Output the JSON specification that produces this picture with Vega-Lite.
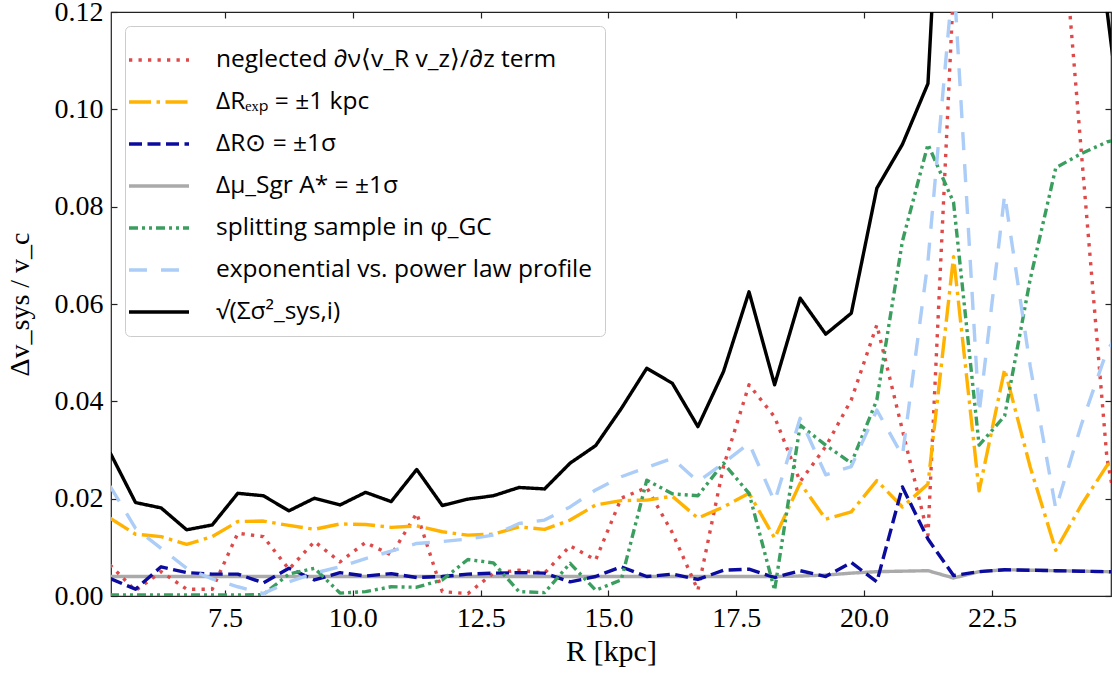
{
  "$schema": "https://vega.github.io/schema/vega-lite/v6.json",
  "width": 1000,
  "height": 584,
  "autosize": {"type": "none"},
  "padding": {"left": 111, "top": 12, "right": 5, "bottom": 79},
  "background": "white",
  "config": {
    "view": {"stroke": "#222222", "strokeWidth": 1.2},
    "font": "Liberation Serif",
    "axis": {"grid": false}
  },
  "data": {
    "values": [
      {"R": 5.25, "neg": 0.0064, "rexp": 0.0160, "rsun": 0.0036, "mu": 0.0040, "split": 0.0002, "expo": 0.0226, "tot": 0.0295},
      {"R": 5.75, "neg": 0.0011, "rexp": 0.0127, "rsun": 0.0014, "mu": 0.0040, "split": 0.0002, "expo": 0.0139, "tot": 0.0192},
      {"R": 6.25, "neg": 0.0050, "rexp": 0.0122, "rsun": 0.0060, "mu": 0.0040, "split": 0.0002, "expo": 0.0098, "tot": 0.0181},
      {"R": 6.75, "neg": 0.0014, "rexp": 0.0106, "rsun": 0.0048, "mu": 0.0040, "split": 0.0002, "expo": 0.0057, "tot": 0.0136},
      {"R": 7.25, "neg": 0.0014, "rexp": 0.0122, "rsun": 0.0045, "mu": 0.0040, "split": 0.0002, "expo": 0.0035, "tot": 0.0146},
      {"R": 7.75, "neg": 0.0129, "rexp": 0.0153, "rsun": 0.0045, "mu": 0.0040, "split": 0.0002, "expo": 0.0019, "tot": 0.0211},
      {"R": 8.25, "neg": 0.0122, "rexp": 0.0154, "rsun": 0.0027, "mu": 0.0040, "split": 0.0003, "expo": 0.0005, "tot": 0.0206},
      {"R": 8.75, "neg": 0.0055, "rexp": 0.0145, "rsun": 0.0057, "mu": 0.0040, "split": 0.0045, "expo": 0.0029, "tot": 0.0175},
      {"R": 9.25, "neg": 0.0112, "rexp": 0.0137, "rsun": 0.0033, "mu": 0.0040, "split": 0.0057, "expo": 0.0047, "tot": 0.0201},
      {"R": 9.75, "neg": 0.0070, "rexp": 0.0148, "rsun": 0.0048, "mu": 0.0040, "split": 0.0006, "expo": 0.0060, "tot": 0.0187},
      {"R": 10.25, "neg": 0.0110, "rexp": 0.0147, "rsun": 0.0041, "mu": 0.0040, "split": 0.0009, "expo": 0.0077, "tot": 0.0213},
      {"R": 10.75, "neg": 0.0084, "rexp": 0.0141, "rsun": 0.0046, "mu": 0.0040, "split": 0.0019, "expo": 0.0092, "tot": 0.0194},
      {"R": 11.25, "neg": 0.0170, "rexp": 0.0144, "rsun": 0.0038, "mu": 0.0040, "split": 0.0018, "expo": 0.0108, "tot": 0.0260},
      {"R": 11.75, "neg": 0.0009, "rexp": 0.0132, "rsun": 0.0040, "mu": 0.0040, "split": 0.0033, "expo": 0.0112, "tot": 0.0186},
      {"R": 12.25, "neg": 0.0005, "rexp": 0.0125, "rsun": 0.0045, "mu": 0.0040, "split": 0.0075, "expo": 0.0117, "tot": 0.0199},
      {"R": 12.75, "neg": 0.0047, "rexp": 0.0127, "rsun": 0.0047, "mu": 0.0040, "split": 0.0068, "expo": 0.0125, "tot": 0.0206},
      {"R": 13.25, "neg": 0.0053, "rexp": 0.0142, "rsun": 0.0048, "mu": 0.0040, "split": 0.0009, "expo": 0.0149, "tot": 0.0223},
      {"R": 13.75, "neg": 0.0047, "rexp": 0.0137, "rsun": 0.0047, "mu": 0.0040, "split": 0.0007, "expo": 0.0156, "tot": 0.0220},
      {"R": 14.25, "neg": 0.0103, "rexp": 0.0156, "rsun": 0.0029, "mu": 0.0040, "split": 0.0067, "expo": 0.0183, "tot": 0.0273},
      {"R": 14.75, "neg": 0.0074, "rexp": 0.0187, "rsun": 0.0040, "mu": 0.0040, "split": 0.0012, "expo": 0.0218, "tot": 0.0309},
      {"R": 15.25, "neg": 0.0201, "rexp": 0.0196, "rsun": 0.0060, "mu": 0.0040, "split": 0.0033, "expo": 0.0245, "tot": 0.0385},
      {"R": 15.75, "neg": 0.0223, "rexp": 0.0197, "rsun": 0.0040, "mu": 0.0040, "split": 0.0238, "expo": 0.0264, "tot": 0.0468},
      {"R": 16.25, "neg": 0.0130, "rexp": 0.0205, "rsun": 0.0045, "mu": 0.0040, "split": 0.0210, "expo": 0.0283, "tot": 0.0437},
      {"R": 16.75, "neg": 0.0012, "rexp": 0.0160, "rsun": 0.0034, "mu": 0.0040, "split": 0.0206, "expo": 0.0235, "tot": 0.0348},
      {"R": 17.25, "neg": 0.0266, "rexp": 0.0183, "rsun": 0.0053, "mu": 0.0040, "split": 0.0273, "expo": 0.0273, "tot": 0.0461},
      {"R": 17.75, "neg": 0.0434, "rexp": 0.0211, "rsun": 0.0055, "mu": 0.0040, "split": 0.0211, "expo": 0.0314, "tot": 0.0625},
      {"R": 18.25, "neg": 0.0368, "rexp": 0.0119, "rsun": 0.0038, "mu": 0.0040, "split": 0.0012, "expo": 0.0194, "tot": 0.0434},
      {"R": 18.75, "neg": 0.0235, "rexp": 0.0232, "rsun": 0.0052, "mu": 0.0041, "split": 0.0351, "expo": 0.0365, "tot": 0.0612},
      {"R": 19.25, "neg": 0.0307, "rexp": 0.0158, "rsun": 0.0040, "mu": 0.0043, "split": 0.0310, "expo": 0.0249, "tot": 0.0538},
      {"R": 19.75, "neg": 0.0403, "rexp": 0.0173, "rsun": 0.0069, "mu": 0.0047, "split": 0.0273, "expo": 0.0266, "tot": 0.0581},
      {"R": 20.25, "neg": 0.0557, "rexp": 0.0237, "rsun": 0.0029, "mu": 0.0050, "split": 0.0403, "expo": 0.0382, "tot": 0.0838},
      {"R": 20.75, "neg": 0.0341, "rexp": 0.0183, "rsun": 0.0224, "mu": 0.0051, "split": 0.0729, "expo": 0.0288, "tot": 0.0928},
      {"R": 21.25, "neg": 0.0125, "rexp": 0.0230, "rsun": 0.0117, "mu": 0.0052, "split": 0.0928, "expo": 0.0688, "tot": 0.1053},
      {"R": 21.75, "neg": 0.1250, "rexp": 0.0697, "rsun": 0.0042, "mu": 0.0037, "split": 0.0809, "expo": 0.1280, "tot": 0.2050},
      {"R": 22.25, "neg": 0.1700, "rexp": 0.0216, "rsun": 0.0050, "mu": 0.0050, "split": 0.0310, "expo": 0.0375, "tot": 0.1780},
      {"R": 22.75, "neg": 0.2000, "rexp": 0.0466, "rsun": 0.0054, "mu": 0.0054, "split": 0.0370, "expo": 0.0825, "tot": 0.2250},
      {"R": 23.25, "neg": 0.1900, "rexp": 0.0265, "rsun": 0.0053, "mu": 0.0053, "split": 0.0651, "expo": 0.0472, "tot": 0.2080},
      {"R": 23.75, "neg": 0.1550, "rexp": 0.0094, "rsun": 0.0052, "mu": 0.0052, "split": 0.0880, "expo": 0.0179, "tot": 0.1790},
      {"R": 24.25, "neg": 0.0912, "rexp": 0.0187, "rsun": 0.0051, "mu": 0.0051, "split": 0.0909, "expo": 0.0352, "tot": 0.1350},
      {"R": 24.75, "neg": 0.0284, "rexp": 0.0268, "rsun": 0.0050, "mu": 0.0050, "split": 0.0933, "expo": 0.0504, "tot": 0.1205},
      {"R": 25.25, "neg": 0.0000, "rexp": 0.0310, "rsun": 0.0048, "mu": 0.0048, "split": 0.0945, "expo": 0.0580, "tot": 0.0780}
    ]
  },
  "transform": [
    {"fold": ["mu", "neg", "rexp", "rsun", "split", "expo", "tot"], "as": ["key", "value"]}
  ],
  "resolve": {"axis": {"x": "independent", "y": "independent"}},
  "layer": [
    {
      "mark": {"type": "line", "clip": true, "strokeCap": "butt", "strokeJoin": "round"},
      "encoding": {
        "x": {
          "field": "R", "type": "quantitative",
          "scale": {"domain": [5.27, 24.83], "nice": false, "zero": false},
          "axis": {
            "orient": "bottom", "values": [7.5, 10, 12.5, 15, 17.5, 20, 22.5], "format": ".1f",
            "title": "R [kpc]", "titleFont": "Liberation Serif", "titleFontSize": 30, "titleFontWeight": "normal",
            "titleColor": "black", "titlePadding": 4,
            "labelFont": "Liberation Serif", "labelFontSize": 28, "labelColor": "black",
            "tickSize": -6, "tickColor": "#222222", "tickWidth": 1.2, "labelPadding": 14,
            "domain": false
          }
        },
        "y": {
          "field": "value", "type": "quantitative",
          "scale": {"domain": [0, 0.12], "nice": false, "zero": false},
          "axis": {
            "orient": "left", "values": [0, 0.02, 0.04, 0.06, 0.08, 0.1, 0.12], "format": ".2f",
            "title": "Δv_sys / v_c", "titleFont": "Liberation Serif", "titleFontSize": 28, "titleFontWeight": "normal",
            "titleColor": "black", "titlePadding": 20,
            "labelFont": "Liberation Serif", "labelFontSize": 28, "labelColor": "black",
            "tickSize": -6, "tickColor": "#222222", "tickWidth": 1.2, "labelPadding": 14,
            "domain": false
          }
        },
        "color": {
          "field": "key", "type": "nominal",
          "scale": {
            "domain": ["neg", "rexp", "rsun", "mu", "split", "expo", "tot"],
            "range": ["#de4a4a", "#ffb300", "#0b0b9e", "#aaaaaa", "#3a9e5f", "#abcdf7", "#000000"]
          },
          "legend": {
            "title": null, "orient": "top-left", "offset": 14, "padding": 12,
            "fillColor": "rgba(255,255,255,0.85)", "strokeColor": "#cccccc", "cornerRadius": 5,
            "symbolType": "M-1.5,0H1.5", "symbolSize": 1600, "symbolStrokeWidth": 3.4,
            "labelFont": "Open Sans", "labelFontSize": 24.5, "labelColor": "black", "labelLimit": 700,
            "rowPadding": 8, "labelOffset": 35,
            "labelExpr": "datum.value == 'neg' ? 'neglected ∂ν⟨v_R v_z⟩/∂z term' : datum.value == 'rexp' ? 'ΔRₑₓₚ = ±1 kpc' : datum.value == 'rsun' ? 'ΔR⊙ = ±1σ' : datum.value == 'mu' ? 'Δμ_Sgr A* = ±1σ' : datum.value == 'split' ? 'splitting sample in φ_GC' : datum.value == 'expo' ? 'exponential vs. power law profile' : '√(Σσ²_sys,i)'"
          }
        },
        "strokeDash": {
          "field": "key", "type": "nominal",
          "scale": {
            "domain": ["neg", "rexp", "rsun", "mu", "split", "expo", "tot"],
            "range": [[3.3, 6.2], [22, 5.5, 3.5, 5.5], [13, 5.5], [1, 0], [9, 4, 3, 4, 3, 4], [18, 14], [1, 0]]
          }
        },
        "strokeWidth": {
          "field": "key", "type": "nominal",
          "scale": {
            "domain": ["neg", "rexp", "rsun", "mu", "split", "expo", "tot"],
            "range": [3.4, 3.4, 3.4, 4.2, 3.4, 3.4, 3.2]
          },
          "legend": null
        }
      }
    },
    {
      "mark": {"type": "point", "opacity": 0, "size": 0},
      "encoding": {
        "x": {
          "field": "R", "type": "quantitative",
          "axis": {"orient": "top", "values": [7.5, 10, 12.5, 15, 17.5, 20, 22.5], "labels": false, "title": null,
                   "tickSize": -6, "tickColor": "#222222", "tickWidth": 1.2, "domain": false}
        },
        "y": {
          "field": "value", "type": "quantitative",
          "axis": {"orient": "right", "values": [0, 0.02, 0.04, 0.06, 0.08, 0.1, 0.12], "labels": false, "title": null,
                   "tickSize": -6, "tickColor": "#222222", "tickWidth": 1.2, "domain": false}
        }
      }
    }
  ]
}
